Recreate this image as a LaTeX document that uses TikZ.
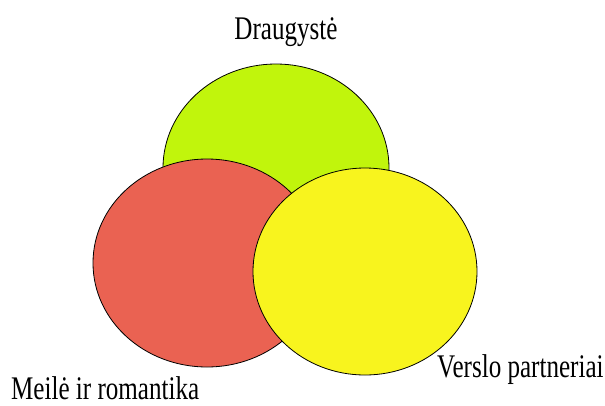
\documentclass[tikz,border=0pt]{standalone}
\usepackage{fontspec}
\setmainfont{Liberation Serif}[FakeStretch=0.76]
\usetikzlibrary{shapes.geometric}
\definecolor{cgreen}{RGB}{193,245,12}
\definecolor{cred}{RGB}{234,98,82}
\definecolor{cyellow}{RGB}{248,244,30}
\tikzset{
  blob/.style={ellipse, draw=black, line width=0.8pt, inner sep=0pt,
    minimum width=226pt, minimum height=208pt},
  lbl/.style={font=\fontsize{33}{38}\selectfont, inner sep=0pt}
}
\begin{document}
\begin{tikzpicture}[x=1pt,y=-1pt]
\useasboundingbox (0,0) rectangle (605,405);
\node[blob, fill=cgreen] (g) at (276,168) {};
\node[blob, fill=cred, minimum width=228pt] (r) at (207,263) {};
\node[blob, fill=cyellow, minimum width=224pt, minimum height=207pt] (y) at (365,271.5) {};
\node[lbl, anchor=base] (tg) at (286,39) {Draugystė};
\node[lbl, anchor=base west] (tr) at (11,399) {Meilė ir romantika};
\node[lbl, anchor=base west] (ty) at (437,377) {Verslo partneriai};
\end{tikzpicture}
\end{document}
